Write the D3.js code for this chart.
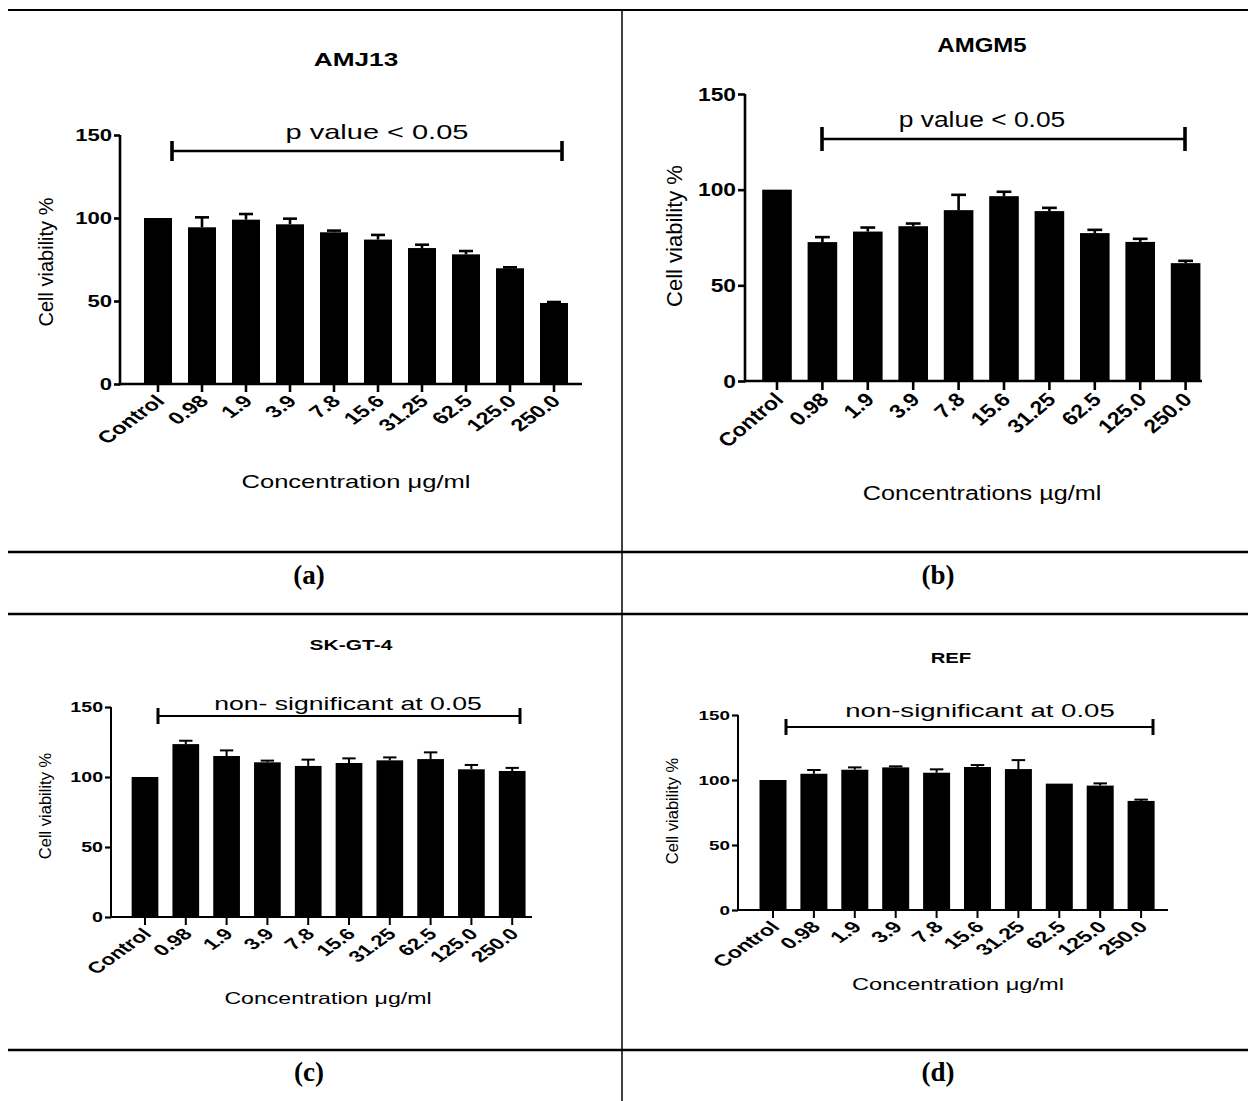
<!DOCTYPE html>
<html>
<head>
<meta charset="utf-8">
<script src="https://cdn.jsdelivr.net/npm/d3@7"></script>
<style>
  html, body { margin: 0; padding: 0; background: #fff; }
  svg { display: block; }
  text { font-family: "Liberation Sans", Arial, sans-serif; fill: #000; }
</style>
</head>
<body>
<svg id="chart" width="1248" height="1101"></svg>
<script>
// ---------------- data ----------------
const categories = ["Control", "0.98", "1.9", "3.9", "7.8", "15.6", "31.25", "62.5", "125.0", "250.0"];
const yTicks = [0, 50, 100, 150];

const amj13Mean = [100, 94.4, 99.0, 96.2, 91.4, 87.0, 81.9, 78.1, 69.7, 48.8];
const amj13Err  = [0, 6.0, 3.4, 3.4, 1.0, 2.8, 2.0, 2.0, 0.6, 0.6];

const amgm5Mean = [100, 72.6, 78.1, 80.9, 89.3, 96.6, 88.8, 77.3, 72.7, 61.6];
const amgm5Err  = [0, 2.6, 2.1, 1.4, 8.0, 2.3, 1.7, 1.7, 1.6, 1.2];

const skgt4Mean = [100, 123.5, 115.0, 110.5, 107.9, 110.0, 111.9, 112.8, 105.5, 104.3];
const skgt4Err  = [0, 2.4, 4.0, 1.2, 4.5, 3.3, 2.1, 4.8, 3.1, 2.2];

const refMean = [100, 104.8, 107.9, 109.7, 105.6, 110.0, 108.4, 97.2, 95.7, 83.9];
const refErr  = [0, 2.9, 1.8, 0.8, 2.6, 1.5, 6.9, 0, 1.7, 1.0];

const panelTitles = ["AMJ13", "AMGM5", "SK-GT-4", "REF"];
const sigLabels = ["p value < 0.05", "p value < 0.05", "non- significant at 0.05", "non-significant at 0.05"];
const xTitles = ["Concentration \u03bcg/ml", "Concentrations \u00b5g/ml", "Concentration \u03bcg/ml", "Concentration \u03bcg/ml"];
const yTitle = "Cell viability %";
const panelLetters = ["(a)", "(b)", "(c)", "(d)"];

// ---------------- layout (screen px) ----------------
const layouts = [
  { sx: 1.38, axisX: 120, y0: 384, yTop: 135, c0: 158, step: 44.0, barW: 28, xEnd: 582,
    brL: 172, brR: 562, brY: 151, brH: 10, sigX: 377, sigY: 139, sigFs: 21,
    titleX: 356, titleY: 66, titleFs: 19, xtX: 356, xtY: 488, xtFs: 18.5,
    ytX: 53, ytY: 262, ytFs: 20, ytickFs: 16, xtickFs: 17, yAxisW: 2.6, xAxisW: 2.6, errW: 2.6, tickLen: 6 },
  { sx: 1.2, axisX: 745, y0: 381, yTop: 94, c0: 777, step: 45.4, barW: 29.6, xEnd: 1202,
    brL: 822, brR: 1185, brY: 139, brH: 12, sigX: 982, sigY: 127, sigFs: 22,
    titleX: 982, titleY: 52, titleFs: 20, xtX: 982, xtY: 500, xtFs: 21,
    ytX: 682, ytY: 236, ytFs: 22, ytickFs: 19, xtickFs: 19, yAxisW: 2.6, xAxisW: 2.6, errW: 2.6, tickLen: 7 },
  { sx: 1.4, axisX: 111, y0: 917, yTop: 707, c0: 145, step: 40.8, barW: 26.7, xEnd: 532,
    brL: 158, brR: 520, brY: 716, brH: 8, sigX: 348, sigY: 710, sigFs: 19,
    titleX: 351, titleY: 650, titleFs: 15, xtX: 328, xtY: 1004, xtFs: 16.5,
    ytX: 51, ytY: 806, ytFs: 16.5, ytickFs: 14, xtickFs: 16, yAxisW: 2.0, xAxisW: 2.2, errW: 2.0, tickLen: 6 },
  { sx: 1.45, axisX: 738, y0: 910, yTop: 715, c0: 773, step: 40.9, barW: 27, xEnd: 1168,
    brL: 786, brR: 1153, brY: 727, brH: 8, sigX: 980, sigY: 717, sigFs: 19,
    titleX: 951, titleY: 663, titleFs: 14, xtX: 958, xtY: 990, xtFs: 16.3,
    ytX: 678, ytY: 811, ytFs: 16.5, ytickFs: 13, xtickFs: 16, yAxisW: 2.0, xAxisW: 2.2, errW: 2.0, tickLen: 6 }
];

const means = [amj13Mean, amgm5Mean, skgt4Mean, refMean];
const errs = [amj13Err, amgm5Err, skgt4Err, refErr];

const svg = d3.select("#chart");

// ---------------- frame / table lines ----------------
const frame = svg.append("g");
frame.append("line").attr("x1", 8).attr("x2", 1248).attr("y1", 10).attr("y2", 10).attr("stroke", "#000").attr("stroke-width", 2);
frame.append("line").attr("x1", 622).attr("x2", 622).attr("y1", 10).attr("y2", 1101).attr("stroke", "#000").attr("stroke-width", 1.5);
[552, 614, 1050].forEach(yy => {
  frame.append("line").attr("x1", 8).attr("x2", 1248).attr("y1", yy).attr("y2", yy).attr("stroke", "#000").attr("stroke-width", 2.5);
});
const letterPos = [[309, 584], [938, 584], [309, 1081], [938, 1081]];
panelLetters.forEach((t, i) => {
  svg.append("text").attr("x", letterPos[i][0]).attr("y", letterPos[i][1])
    .attr("text-anchor", "middle")
    .style("font-family", "'Liberation Serif', 'DejaVu Serif', serif")
    .style("font-weight", "bold").style("font-size", "27px")
    .text(t);
});

// ---------------- panels ----------------
function drawPanel(i) {
  const L = layouts[i];
  const inner = X => (X - L.axisX) / L.sx;
  const g = svg.append("g").attr("transform", `translate(${L.axisX},0) scale(${L.sx},1)`);

  const y = d3.scaleLinear().domain([0, 150]).range([L.y0, L.yTop]);
  const pad = 1 - L.barW / L.step;
  const x = d3.scaleBand().domain(categories)
    .range([inner(L.c0 - L.step / 2), inner(L.c0 + 9.5 * L.step)])
    .paddingInner(pad).paddingOuter(pad / 2);

  const data = categories.map((c, k) => ({ c, m: means[i][k], e: errs[i][k] }));

  // bars
  g.selectAll("rect.bar").data(data).join("rect")
    .attr("class", "bar")
    .attr("x", d => x(d.c)).attr("width", x.bandwidth())
    .attr("y", d => y(d.m)).attr("height", d => y(0) - y(d.m))
    .attr("fill", "#000");

  // error bars (upper only)
  const eb = g.selectAll("g.err").data(data.filter(d => d.e > 0)).join("g").attr("class", "err");
  eb.append("line")
    .attr("x1", d => x(d.c) + x.bandwidth() / 2).attr("x2", d => x(d.c) + x.bandwidth() / 2)
    .attr("y1", d => y(d.m)).attr("y2", d => y(d.m + d.e))
    .attr("stroke", "#000").attr("stroke-width", L.errW / L.sx);
  eb.append("line")
    .attr("x1", d => x(d.c) + x.bandwidth() / 4).attr("x2", d => x(d.c) + 3 * x.bandwidth() / 4)
    .attr("y1", d => y(d.m + d.e)).attr("y2", d => y(d.m + d.e))
    .attr("stroke", "#000").attr("stroke-width", L.errW);

  // y axis
  const yAx = g.append("g").call(d3.axisLeft(y).tickValues(yTicks).tickSize(L.tickLen / L.sx).tickSizeOuter(0).tickPadding(2 / L.sx));
  yAx.select(".domain").remove();
  yAx.selectAll(".tick line").attr("stroke", "#000").attr("stroke-width", L.xAxisW);
  yAx.selectAll(".tick text").style("font-size", L.ytickFs + "px").style("font-weight", "bold")
    .style("font-family", "'Liberation Sans', Arial, sans-serif");
  g.append("line").attr("x1", 0).attr("x2", 0).attr("y1", y(0) + L.xAxisW / 2).attr("y2", y(150))
    .attr("stroke", "#000").attr("stroke-width", L.yAxisW / L.sx);

  // x axis
  const xAx = g.append("g").attr("transform", `translate(0,${y(0)})`)
    .call(d3.axisBottom(x).tickSize(L.tickLen + 2).tickSizeOuter(0));
  xAx.select(".domain").remove();
  xAx.selectAll(".tick line").attr("stroke", "#000").attr("stroke-width", L.yAxisW / L.sx);
  xAx.selectAll(".tick text")
    .attr("x", 0).attr("y", 0).attr("dy", "0.35em")
    .attr("transform", `translate(${2 / L.sx},${L.tickLen + 8}) rotate(-45)`)
    .style("text-anchor", "end")
    .style("font-size", L.xtickFs + "px").style("font-weight", "bold")
    .style("font-family", "'Liberation Sans', Arial, sans-serif");
  g.append("line").attr("x1", 0).attr("x2", inner(L.xEnd)).attr("y1", y(0)).attr("y2", y(0))
    .attr("stroke", "#000").attr("stroke-width", L.xAxisW);

  // significance bracket
  const br = g.append("g");
  br.append("line").attr("x1", inner(L.brL)).attr("x2", inner(L.brR)).attr("y1", L.brY).attr("y2", L.brY)
    .attr("stroke", "#000").attr("stroke-width", L.errW);
  [L.brL, L.brR].forEach(X => {
    br.append("line").attr("x1", inner(X)).attr("x2", inner(X)).attr("y1", L.brY - L.brH).attr("y2", L.brY + L.brH)
      .attr("stroke", "#000").attr("stroke-width", (L.errW + 1) / L.sx);
  });
  g.append("text").attr("x", inner(L.sigX)).attr("y", L.sigY).attr("text-anchor", "middle")
    .style("font-size", L.sigFs + "px").text(sigLabels[i]);

  // title
  g.append("text").attr("x", inner(L.titleX)).attr("y", L.titleY).attr("text-anchor", "middle")
    .style("font-size", L.titleFs + "px").style("font-weight", "bold").text(panelTitles[i]);

  // x title
  g.append("text").attr("x", inner(L.xtX)).attr("y", L.xtY).attr("text-anchor", "middle")
    .style("font-size", L.xtFs + "px").text(xTitles[i]);

  // y title (not stretched)
  svg.append("text").attr("transform", `translate(${L.ytX},${L.ytY}) rotate(-90)`)
    .attr("text-anchor", "middle")
    .style("font-size", L.ytFs + "px").text(yTitle);
}

[0, 1, 2, 3].forEach(drawPanel);
</script>
</body>
</html>
